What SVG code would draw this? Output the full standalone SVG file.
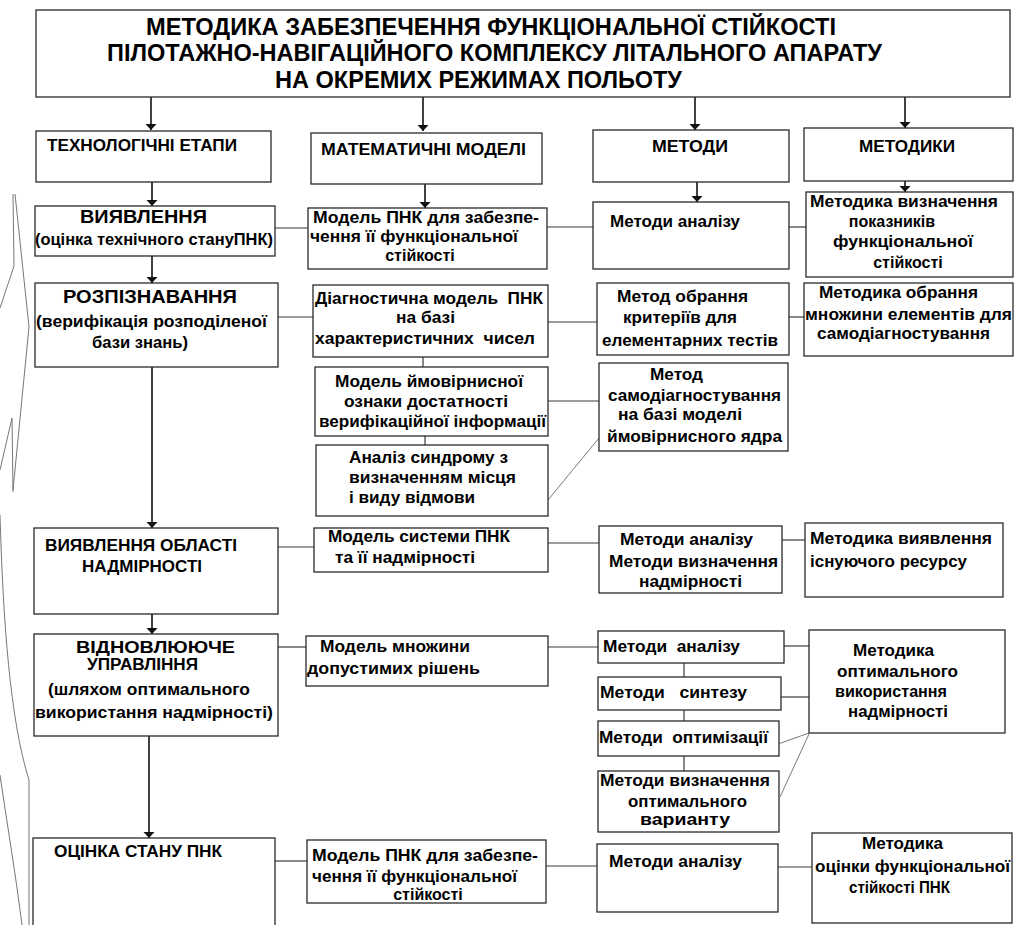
<svg xmlns="http://www.w3.org/2000/svg" width="1015" height="925" viewBox="0 0 1015 925">
<style>
.b{fill:#fff;stroke:#2a2a2a;stroke-width:1.3}
.c{stroke:#3a3a3a;stroke-width:1.2;fill:none}
.a{stroke:#111;stroke-width:1.6;fill:none}
.d{stroke:#555;stroke-width:0.8;fill:none}
.br{stroke:#777;stroke-width:1;fill:none}
text{font-family:"Liberation Sans",Arial,sans-serif;font-weight:bold;font-size:16px;fill:#000;white-space:pre}
.ti{font-size:24px}
.big{font-size:18px}
.m{text-anchor:middle}
</style>
<defs>
<marker id="ah" markerUnits="userSpaceOnUse" markerWidth="6" markerHeight="12" viewBox="0 -6 6 12" refX="6" refY="0" orient="auto">
<path d="M0,-5.5 L6,0 L0,5.5 z" fill="#111"/>
</marker>
</defs>
<rect width="1015" height="925" fill="#fff"/>

<g id="brace">
<path class="br" d="M13,194 L14,266 L0,308"/>
<path class="br" d="M15,194 L29,327 L13,490"/>
<path class="br" d="M0,470 L12,418 L13,492"/>
<path class="br" d="M0,515 C3,620 10,720 29,780 L29,925"/>
<path class="br" d="M0,775 C8,830 15,870 22,925"/>
</g>

<g id="connectors">
<line class="a" x1="151" y1="97" x2="151" y2="130" marker-end="url(#ah)"/>
<line class="a" x1="423" y1="97" x2="423" y2="131" marker-end="url(#ah)"/>
<line class="a" x1="695" y1="97" x2="695" y2="130" marker-end="url(#ah)"/>
<line class="a" x1="905" y1="97" x2="905" y2="128" marker-end="url(#ah)"/>
<line class="a" x1="152" y1="182" x2="152" y2="206" marker-end="url(#ah)"/>
<line class="a" x1="425" y1="184" x2="425" y2="208" marker-end="url(#ah)"/>
<line class="a" x1="697" y1="182" x2="697" y2="202" marker-end="url(#ah)"/>
<line class="a" x1="905" y1="181" x2="905" y2="192" marker-end="url(#ah)"/>
<line class="a" x1="152" y1="256" x2="152" y2="283" marker-end="url(#ah)"/>
<line class="a" x1="152" y1="367" x2="152" y2="528" marker-end="url(#ah)"/>
<line class="a" x1="152" y1="614" x2="152" y2="634" marker-end="url(#ah)"/>
<line class="a" x1="149" y1="736" x2="149" y2="838" marker-end="url(#ah)"/>
<line class="c" x1="275" y1="228" x2="308" y2="228"/>
<line class="c" x1="547" y1="227" x2="593" y2="227"/>
<line class="c" x1="789" y1="227" x2="806" y2="227"/>
<line class="c" x1="278" y1="317" x2="313" y2="317"/>
<line class="c" x1="548" y1="322" x2="597" y2="322"/>
<line class="c" x1="789" y1="317" x2="804" y2="317"/>
<line class="c" x1="423" y1="357" x2="423" y2="367"/>
<line class="c" x1="425" y1="436" x2="425" y2="445"/>
<line class="c" x1="548" y1="401" x2="599" y2="401"/>
<line class="d" x1="548" y1="500" x2="599" y2="438"/>
<line class="c" x1="278" y1="547" x2="314" y2="547"/>
<line class="c" x1="548" y1="543" x2="599" y2="543"/>
<line class="c" x1="782" y1="540" x2="805" y2="540"/>
<line class="c" x1="278" y1="647" x2="306" y2="647"/>
<line class="c" x1="548" y1="647" x2="598" y2="647"/>
<line class="c" x1="784" y1="646" x2="809" y2="646"/>
<line class="c" x1="781" y1="697" x2="809" y2="697"/>
<line class="c" x1="684" y1="663" x2="684" y2="677"/>
<line class="c" x1="684" y1="710" x2="684" y2="721"/>
<line class="c" x1="684" y1="756" x2="684" y2="771"/>
<line class="d" x1="778" y1="744" x2="809" y2="733"/>
<line class="d" x1="809" y1="734" x2="780" y2="797"/>
<line class="c" x1="275" y1="861" x2="307" y2="861"/>
<line class="c" x1="546" y1="866" x2="597" y2="866"/>
<line class="c" x1="778" y1="867" x2="812" y2="867"/>
</g>

<g id="title">
<rect class="b" x="36" y="10" width="974" height="87"/>
<text class="ti" x="146" y="35" textLength="690" lengthAdjust="spacingAndGlyphs">МЕТОДИКА ЗАБЕЗПЕЧЕННЯ ФУНКЦІОНАЛЬНОЇ СТІЙКОСТІ</text>
<text class="ti" x="107" y="61" textLength="775" lengthAdjust="spacingAndGlyphs">ПІЛОТАЖНО-НАВІГАЦІЙНОГО КОМПЛЕКСУ ЛІТАЛЬНОГО АПАРАТУ</text>
<text class="ti" x="275" y="88" textLength="407" lengthAdjust="spacingAndGlyphs">НА ОКРЕМИХ РЕЖИМАХ ПОЛЬОТУ</text>
</g>

<g id="h-stages">
<rect class="b" x="36" y="131" width="235" height="51"/>
<text x="47" y="151" textLength="190" lengthAdjust="spacingAndGlyphs">ТЕХНОЛОГІЧНІ ЕТАПИ</text>
</g>
<g id="h-models">
<rect class="b" x="311" y="133" width="231" height="51"/>
<text x="321" y="155" textLength="205" lengthAdjust="spacingAndGlyphs">МАТЕМАТИЧНІ МОДЕЛІ</text>
</g>
<g id="h-methods">
<rect class="b" x="593" y="130" width="196" height="52"/>
<text x="652" y="152" textLength="76" lengthAdjust="spacingAndGlyphs">МЕТОДИ</text>
</g>
<g id="h-techniques">
<rect class="b" x="804" y="128" width="209" height="53"/>
<text x="859" y="152" textLength="96" lengthAdjust="spacingAndGlyphs">МЕТОДИКИ</text>
</g>

<g id="s-detect">
<rect class="b" x="35" y="206" width="240" height="50"/>
<text class="big" x="80" y="223" textLength="127" lengthAdjust="spacingAndGlyphs">ВИЯВЛЕННЯ</text>
<text x="35" y="245" textLength="238" lengthAdjust="spacingAndGlyphs">(оцінка технічного стануПНК)</text>
</g>
<g id="m-pnk1">
<rect class="b" x="308" y="208" width="239" height="61"/>
<text x="313" y="223" textLength="226" lengthAdjust="spacingAndGlyphs">Модель ПНК для забезпе-</text>
<text x="310" y="242" textLength="208" lengthAdjust="spacingAndGlyphs">чення її функціональної</text>
<text class="m" x="420" y="261">стійкості</text>
</g>
<g id="me-analysis1">
<rect class="b" x="593" y="202" width="196" height="67"/>
<text x="610" y="227" textLength="130" lengthAdjust="spacingAndGlyphs">Методи аналізу</text>
</g>
<g id="t-indicators">
<rect class="b" x="806" y="192" width="207" height="85"/>
<text x="810" y="207" textLength="188" lengthAdjust="spacingAndGlyphs">Методика визначення</text>
<text class="m" x="892" y="227">показників</text>
<text x="833" y="247" textLength="140" lengthAdjust="spacingAndGlyphs">функціональної</text>
<text class="m" x="908" y="268">стійкості</text>
</g>

<g id="s-recognition">
<rect class="b" x="35" y="283" width="243" height="84"/>
<text class="big" x="63" y="303" textLength="174" lengthAdjust="spacingAndGlyphs">РОЗПІЗНАВАННЯ</text>
<text x="36" y="327" textLength="231" lengthAdjust="spacingAndGlyphs">(верифікація розподіленої</text>
<text x="92" y="348" textLength="96" lengthAdjust="spacingAndGlyphs">бази знань)</text>
</g>
<g id="m-diag">
<rect class="b" x="313" y="285" width="235" height="72"/>
<text x="315" y="304" textLength="228" lengthAdjust="spacingAndGlyphs">Діагностична модель  ПНК</text>
<text x="396" y="323" textLength="59" lengthAdjust="spacingAndGlyphs">на базі</text>
<text x="315" y="344" textLength="220" lengthAdjust="spacingAndGlyphs">характеристичних  чисел</text>
</g>
<g id="m-prob">
<rect class="b" x="315" y="367" width="233" height="69"/>
<text x="335" y="387" textLength="188" lengthAdjust="spacingAndGlyphs">Модель ймовірнисної</text>
<text x="344" y="407" textLength="164" lengthAdjust="spacingAndGlyphs">ознаки достатності</text>
<text x="319" y="427" textLength="227" lengthAdjust="spacingAndGlyphs">верифікаційної інформації</text>
</g>
<g id="m-syndrome">
<rect class="b" x="316" y="445" width="232" height="71"/>
<text x="349" y="463" textLength="159" lengthAdjust="spacingAndGlyphs">Аналіз синдрому з</text>
<text x="349" y="483" textLength="167" lengthAdjust="spacingAndGlyphs">визначенням місця</text>
<text x="349" y="503" textLength="126" lengthAdjust="spacingAndGlyphs">і виду відмови</text>
</g>
<g id="me-criteria">
<rect class="b" x="597" y="283" width="192" height="72"/>
<text x="617" y="302" textLength="131" lengthAdjust="spacingAndGlyphs">Метод обрання</text>
<text x="623" y="323" textLength="114" lengthAdjust="spacingAndGlyphs">критеріїв для</text>
<text x="602" y="346" textLength="176" lengthAdjust="spacingAndGlyphs">елементарних тестів</text>
</g>
<g id="me-selfdiag">
<rect class="b" x="599" y="363" width="189" height="88"/>
<text x="650" y="380" textLength="53" lengthAdjust="spacingAndGlyphs">Метод</text>
<text x="608" y="401" textLength="173" lengthAdjust="spacingAndGlyphs">самодіагностування</text>
<text x="618" y="420" textLength="124" lengthAdjust="spacingAndGlyphs">на базі моделі</text>
<text x="607" y="442" textLength="175" lengthAdjust="spacingAndGlyphs">ймовірнисного ядра</text>
</g>
<g id="t-elements">
<rect class="b" x="804" y="283" width="209" height="73"/>
<text x="819" y="298" textLength="159" lengthAdjust="spacingAndGlyphs">Методика обрання</text>
<text x="805" y="320" textLength="207" lengthAdjust="spacingAndGlyphs">множини елементів для</text>
<text x="817" y="339" textLength="173" lengthAdjust="spacingAndGlyphs">самодіагностування</text>
</g>

<g id="s-redundancy">
<rect class="b" x="34" y="528" width="244" height="86"/>
<text x="45" y="551" textLength="192" lengthAdjust="spacingAndGlyphs">ВИЯВЛЕННЯ ОБЛАСТІ</text>
<text x="82" y="572" textLength="120" lengthAdjust="spacingAndGlyphs">НАДМІРНОСТІ</text>
</g>
<g id="m-system">
<rect class="b" x="314" y="528" width="234" height="44"/>
<text x="328" y="542" textLength="182" lengthAdjust="spacingAndGlyphs">Модель системи ПНК</text>
<text x="335" y="563" textLength="140" lengthAdjust="spacingAndGlyphs">та її надмірності</text>
</g>
<g id="me-analysis2">
<rect class="b" x="599" y="526" width="183" height="67"/>
<text x="620" y="545" textLength="133" lengthAdjust="spacingAndGlyphs">Методи аналізу</text>
<text x="609" y="567" textLength="169" lengthAdjust="spacingAndGlyphs">Методи визначення</text>
<text x="639" y="587" textLength="103" lengthAdjust="spacingAndGlyphs">надмірності</text>
</g>
<g id="t-resource">
<rect class="b" x="805" y="523" width="198" height="74"/>
<text x="810" y="544" textLength="182" lengthAdjust="spacingAndGlyphs">Методика виявлення</text>
<text x="810" y="567" textLength="157" lengthAdjust="spacingAndGlyphs">існуючого ресурсу</text>
</g>

<g id="s-control">
<rect class="b" x="34" y="634" width="244" height="102"/>
<text x="76" y="653" textLength="159" lengthAdjust="spacingAndGlyphs">ВІДНОВЛЮЮЧЕ</text>
<text x="87" y="670" textLength="111" lengthAdjust="spacingAndGlyphs">УПРАВЛІННЯ</text>
<text x="48" y="695" textLength="202" lengthAdjust="spacingAndGlyphs">(шляхом оптимального</text>
<text x="35" y="718" textLength="238" lengthAdjust="spacingAndGlyphs">використання надмірності)</text>
</g>
<g id="m-solutions">
<rect class="b" x="306" y="636" width="242" height="50"/>
<text x="320" y="652" textLength="150" lengthAdjust="spacingAndGlyphs">Модель множини</text>
<text x="307" y="674" textLength="173" lengthAdjust="spacingAndGlyphs">допустимих рішень</text>
</g>
<g id="me-analysis3">
<rect class="b" x="598" y="631" width="186" height="32"/>
<text x="603" y="652" textLength="137" lengthAdjust="spacingAndGlyphs">Методи  аналізу</text>
</g>
<g id="me-synthesis">
<rect class="b" x="598" y="677" width="183" height="33"/>
<text x="600" y="698" textLength="147" lengthAdjust="spacingAndGlyphs">Методи   синтезу</text>
</g>
<g id="me-optim">
<rect class="b" x="598" y="721" width="181" height="35"/>
<text x="599" y="743" textLength="169" lengthAdjust="spacingAndGlyphs">Методи  оптимізації</text>
</g>
<g id="me-variant">
<rect class="b" x="598" y="771" width="181" height="61"/>
<text x="600" y="786" textLength="170" lengthAdjust="spacingAndGlyphs">Методи визначення</text>
<text x="628" y="807" textLength="119" lengthAdjust="spacingAndGlyphs">оптимального</text>
<text x="640" y="825" textLength="90" lengthAdjust="spacingAndGlyphs">варианту</text>
</g>
<g id="t-optimal">
<rect class="b" x="809" y="630" width="196" height="103"/>
<text x="853" y="656" textLength="81" lengthAdjust="spacingAndGlyphs">Методика</text>
<text x="837" y="677" textLength="121" lengthAdjust="spacingAndGlyphs">оптимального</text>
<text x="835" y="697" textLength="112" lengthAdjust="spacingAndGlyphs">використання</text>
<text x="848" y="717" textLength="100" lengthAdjust="spacingAndGlyphs">надмірності</text>
</g>

<g id="s-assessment">
<rect class="b" x="33" y="838" width="242" height="95"/>
<text x="54" y="857" textLength="168" lengthAdjust="spacingAndGlyphs">ОЦІНКА СТАНУ ПНК</text>
</g>
<g id="m-pnk2">
<rect class="b" x="307" y="840" width="239" height="63"/>
<text x="312" y="861" textLength="226" lengthAdjust="spacingAndGlyphs">Модель ПНК для забезпе-</text>
<text x="312" y="882" textLength="205" lengthAdjust="spacingAndGlyphs">чення її функціональної</text>
<text class="m" x="428" y="900">стійкості</text>
</g>
<g id="me-analysis4">
<rect class="b" x="597" y="844" width="181" height="68"/>
<text x="609" y="867" textLength="133" lengthAdjust="spacingAndGlyphs">Методи аналізу</text>
</g>
<g id="t-assessment">
<rect class="b" x="812" y="833" width="200" height="90"/>
<text x="862" y="849" textLength="81" lengthAdjust="spacingAndGlyphs">Методика</text>
<text x="815" y="872" textLength="195" lengthAdjust="spacingAndGlyphs">оцінки функціональної</text>
<text x="849" y="893" textLength="101" lengthAdjust="spacingAndGlyphs">стійкості ПНК</text>
</g>
</svg>
